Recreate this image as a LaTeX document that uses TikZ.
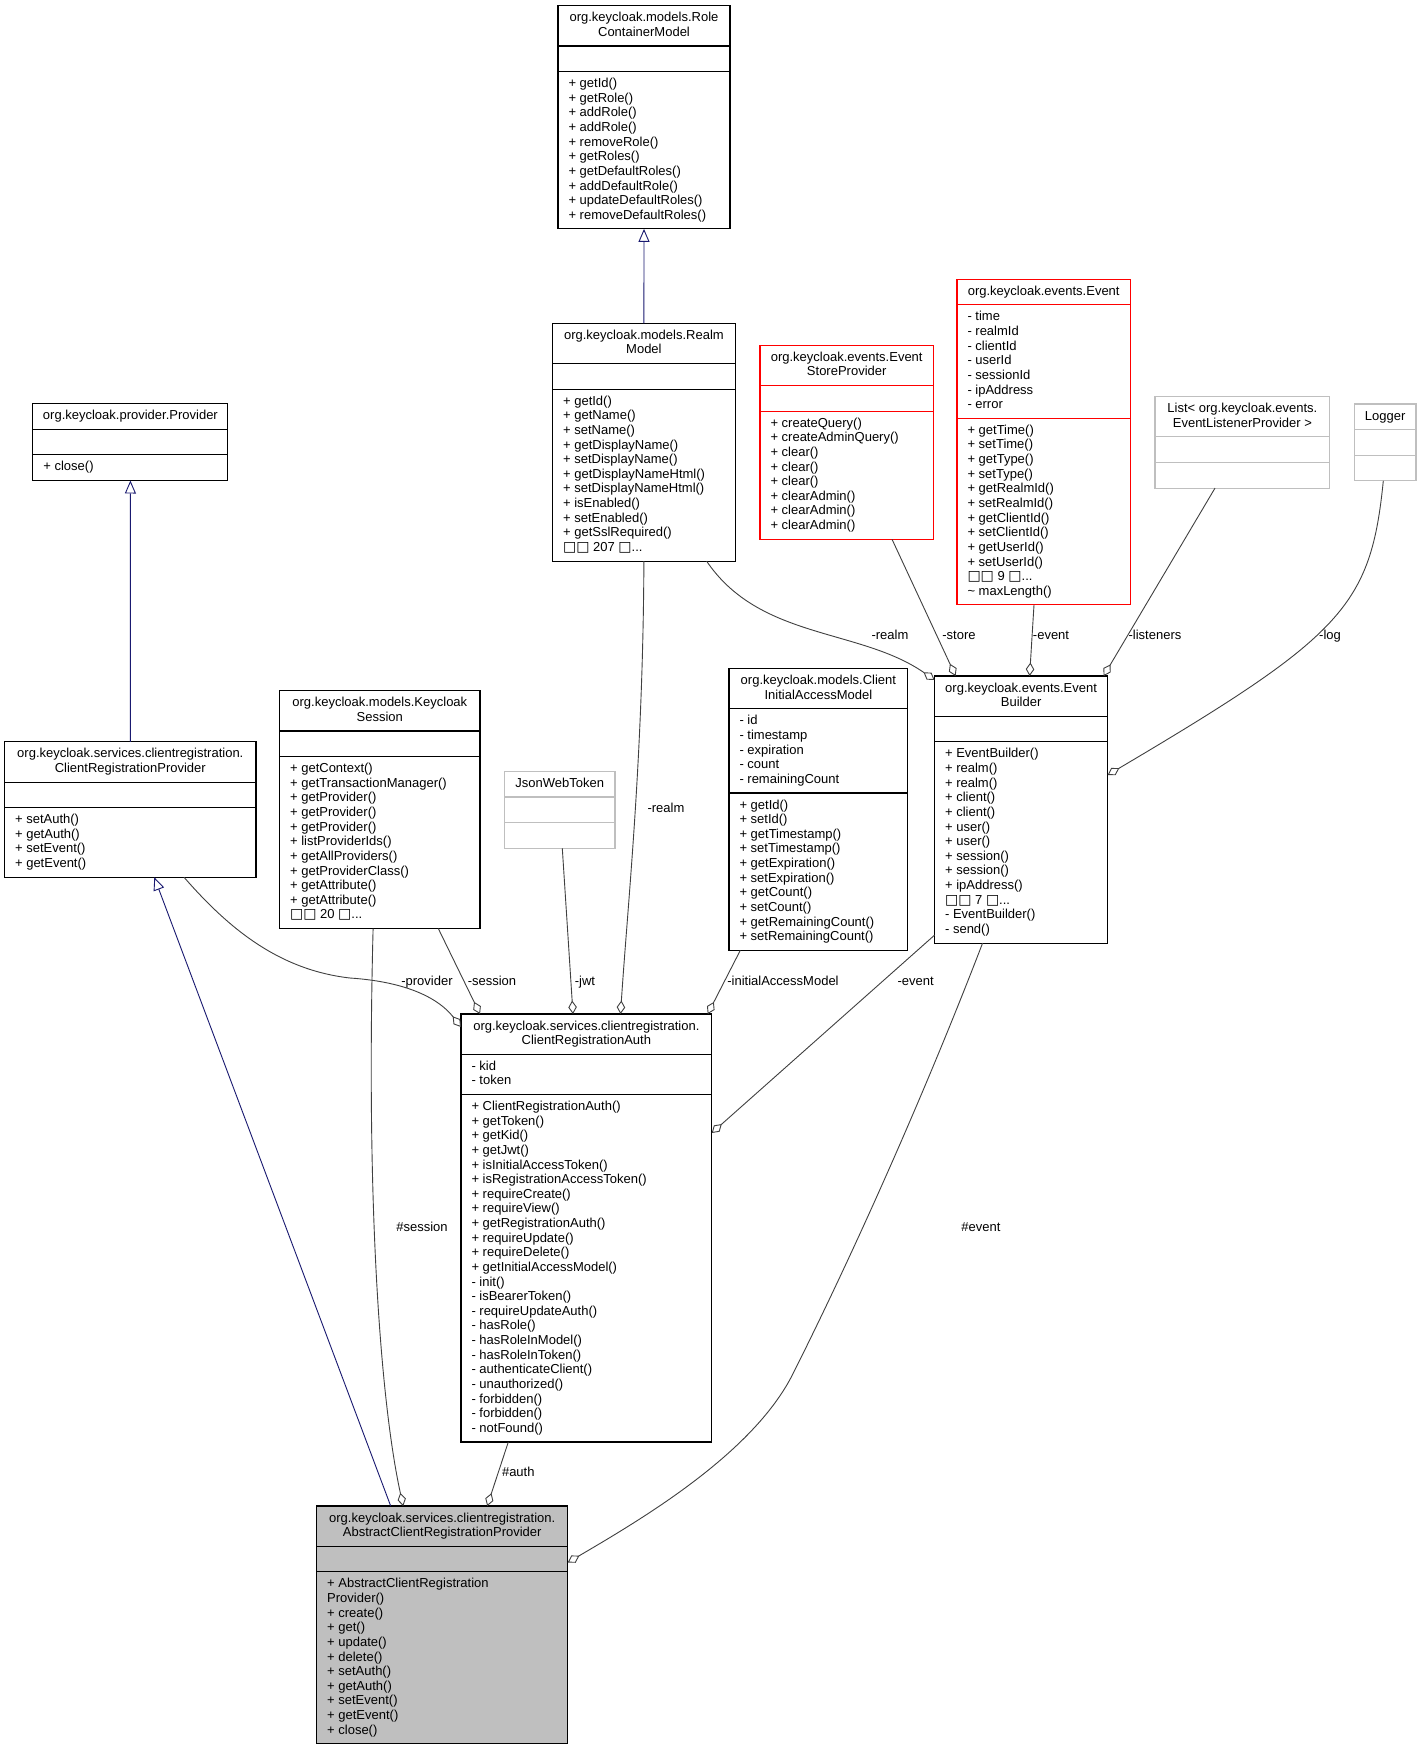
\documentclass[tikz,border=0pt]{standalone}
\usepackage{fontspec}
\setmainfont{Liberation Sans}
\newfontfamily\dejavu{DejaVu Sans}
\usetikzlibrary{arrows.meta,calc}
\definecolor{edgegrey}{HTML}{404040}
\definecolor{navyc}{HTML}{191970}
\definecolor{boxgrey}{HTML}{BFBFBF}
\definecolor{redc}{HTML}{FF0000}
\newcommand{\tofu}{{\dejavu\fontsize{14}{14}\selectfont □}}
\newcommand{\tdots}{...}
\newcommand{\lh}{14.63}
\newcommand{\upad}{11}
\tikzset{
  classbox/.style={rectangle, inner sep=0pt, outer sep=0pt, line width=1.1pt},
  sepline/.style={line width=1.1pt},
  txt/.style={inner sep=0pt, outer sep=0pt, font=\fontsize{13}{14.63}\selectfont, text=black},
  lbl/.style={txt, anchor=base},
  edge/.style={draw=edgegrey, line width=0.9pt},
  agg/.style={edge, -{Diamond[length=13.5pt,width=8.5pt,fill=white]}},
  inh/.style={draw=navyc, line width=0.9pt, -{Triangle[length=13pt,width=11pt,fill=white]}},
}
\newcommand{\umlbox}[9]{%
  \pgfmathsetmacro\ua{#3+\lh*#5+\upad}%
  \pgfmathsetmacro\ub{\ua+\lh*max(#6,1)+\upad}%
  \pgfmathsetmacro\uc{\ub+\lh*max(#7,1)+\upad}%
  \pgfmathsetmacro\cx{(#2+#4)/2}%
  \pgfmathsetmacro\cy{(#3+\uc)/2}%
  \pgfmathsetmacro\uw{#4-#2}%
  \pgfmathsetmacro\uh{\uc-#3}%
  \node[classbox, draw=#8, fill=#9, minimum width={\uw pt}, minimum height={\uh pt}] (#1) at (\cx,\cy) {};
  \draw[sepline, draw=#8] (#2,\ua) -- (#4,\ua) (#2,\ub) -- (#4,\ub);
  \xdef\uL{#2}\xdef\uT{#3}\xdef\uA{\ua}\xdef\uB{\ub}\xdef\uN{#1}\xdef\uCX{\cx}%
}
\newcommand{\umlhead}[1]{\foreach \itm [count=\ii] in {#1} {\node[txt, anchor=base] (\uN-h\ii) at (\uCX, {\uT+16+(\ii-1)*\lh}) {\itm};}}
\newcommand{\umlattr}[1]{\foreach \itm [count=\ii] in {#1} {\node[txt, anchor=base west] (\uN-a\ii) at ({\uL+10.5}, {\uA+16+(\ii-1)*\lh}) {\itm};}}
\newcommand{\umlmeth}[1]{\foreach \itm [count=\ii] in {#1} {\node[txt, anchor=base west] (\uN-m\ii) at ({\uL+10.5}, {\uB+16+(\ii-1)*\lh}) {\itm};}}
\begin{document}
\begin{tikzpicture}[x=1pt,y=-1pt]
\fill[white] (0,0) rectangle (1421,1749);
\useasboundingbox (0,0) rectangle (1421,1749);

\umlbox{rcm}{558}{5.7}{730}{2}{0}{10}{black}{white}
\umlhead{org.keycloak.models.Role,ContainerModel}
\umlmeth{+ getId(),+ getRole(),+ addRole(),+ addRole(),+ removeRole(),+ getRoles(),+ getDefaultRoles(),+ addDefaultRole(),+ updateDefaultRoles(),+ removeDefaultRoles()}

\umlbox{realm}{552.6}{323.3}{735.2}{2}{0}{11}{black}{white}
\umlhead{org.keycloak.models.Realm,Model}
\umlmeth{+ getId(),+ getName(),+ setName(),+ getDisplayName(),+ setDisplayName(),+ getDisplayNameHtml(),+ setDisplayNameHtml(),+ isEnabled(),+ setEnabled(),+ getSslRequired(),\tofu\tofu\ 207 \tofu\tdots}

\umlbox{esp}{760}{345.3}{933.4}{2}{0}{8}{redc}{white}
\umlhead{org.keycloak.events.Event,StoreProvider}
\umlmeth{+ createQuery(),+ createAdminQuery(),+ clear(),+ clear(),+ clear(),+ clearAdmin(),+ clearAdmin(),+ clearAdmin()}

\umlbox{event}{957}{279.3}{1130.4}{1}{7}{12}{redc}{white}
\umlhead{org.keycloak.events.Event}
\umlattr{- time,- realmId,- clientId,- userId,- sessionId,- ipAddress,- error}
\umlmeth{+ getTime(),+ setTime(),+ getType(),+ setType(),+ getRealmId(),+ setRealmId(),+ getClientId(),+ setClientId(),+ getUserId(),+ setUserId(),\tofu\tofu\ 9 \tofu\tdots,\textasciitilde\ maxLength()}

\umlbox{list}{1155}{396.6}{1329.8}{2}{0}{0}{boxgrey}{white}
\umlhead{List< org.keycloak.events.,EventListenerProvider >}

\umlbox{logger}{1354.3}{404}{1416}{1}{0}{0}{boxgrey}{white}
\umlhead{Logger}

\umlbox{provider}{32.9}{403.6}{227.9}{1}{0}{1}{black}{white}
\umlhead{org.keycloak.provider.Provider}
\umlmeth{+ close()}

\umlbox{crp}{4.6}{741.8}{256}{2}{0}{4}{black}{white}
\umlhead{org.keycloak.services.clientregistration.,ClientRegistrationProvider}
\umlmeth{+ setAuth(),+ getAuth(),+ setEvent(),+ getEvent()}

\umlbox{ks}{279.6}{690.7}{480}{2}{0}{11}{black}{white}
\umlhead{org.keycloak.models.Keycloak,Session}
\umlmeth{+ getContext(),+ getTransactionManager(),+ getProvider(),+ getProvider(),+ getProvider(),+ listProviderIds(),+ getAllProviders(),+ getProviderClass(),+ getAttribute(),+ getAttribute(),\tofu\tofu\ 20 \tofu\tdots}

\umlbox{jwt}{504.3}{771.4}{615}{1}{0}{0}{boxgrey}{white}
\umlhead{JsonWebToken}

\umlbox{ciam}{729}{668.6}{907.8}{2}{5}{10}{black}{white}
\umlhead{org.keycloak.models.Client,InitialAccessModel}
\umlattr{- id,- timestamp,- expiration,- count,- remainingCount}
\umlmeth{+ getId(),+ setId(),+ getTimestamp(),+ setTimestamp(),+ getExpiration(),+ setExpiration(),+ getCount(),+ setCount(),+ getRemainingCount(),+ setRemainingCount()}

\umlbox{eb}{934.6}{676}{1107.6}{2}{0}{13}{black}{white}
\umlhead{org.keycloak.events.Event,Builder}
\umlmeth{+ EventBuilder(),+ realm(),+ realm(),+ client(),+ client(),+ user(),+ user(),+ session(),+ session(),+ ipAddress(),\tofu\tofu\ 7 \tofu\tdots,- EventBuilder(),- send()}

\umlbox{cra}{461}{1014}{711.7}{2}{2}{23}{black}{white}
\umlhead{org.keycloak.services.clientregistration.,ClientRegistrationAuth}
\umlattr{- kid,- token}
\umlmeth{+ ClientRegistrationAuth(),+ getToken(),+ getKid(),+ getJwt(),+ isInitialAccessToken(),+ isRegistrationAccessToken(),+ requireCreate(),+ requireView(),+ getRegistrationAuth(),+ requireUpdate(),+ requireDelete(),+ getInitialAccessModel(),- init(),- isBearerToken(),- requireUpdateAuth(),- hasRole(),- hasRoleInModel(),- hasRoleInToken(),- authenticateClient(),- unauthorized(),- forbidden(),- forbidden(),- notFound()}

\umlbox{acrp}{316.7}{1506}{567.7}{2}{0}{11}{black}{boxgrey}
\umlhead{org.keycloak.services.clientregistration.,AbstractClientRegistrationProvider}
\umlmeth{+ AbstractClientRegistration,Provider(),+ create(),+ get(),+ update(),+ delete(),+ setAuth(),+ getAuth(),+ setEvent(),+ getEvent(),+ close()}

% inheritance
\draw[inh] (realm.north) -- (rcm.south);
\draw[inh] (crp.north) -- (provider.south);
\draw[inh] ($(acrp.north west)+(74,0)$) -- ($(crp.south west)+(149.7,0)$);

% aggregations into EventBuilder
\draw[agg] ($(esp.south west)+(132,0)$) -- ($(eb.north west)+(21,0)$);
\draw[agg] ($(event.south west)+(77,0)$) -- ($(eb.north west)+(95,0)$);
\draw[agg] ($(list.south west)+(60,0)$) -- ($(eb.north east)+(-4,0)$);
\draw[agg] ($(realm.south west)+(154,0)$) .. controls (760,640) and (860,628) .. ($(eb.north west)+(0,4)$);
\draw[agg] ($(logger.south west)+(29,0)$) .. controls (1370.7,606.2) and (1343.2,635.7) .. ($(eb.north east)+(0,99)$);

% aggregations into ClientRegistrationAuth
\draw[agg] ($(crp.south west)+(179.4,0)$) .. controls (230,930) and (280,970) .. (350,978) .. controls (410,982) and (440,1000) .. ($(cra.north west)+(0,13)$);
\draw[agg] ($(ks.south west)+(158.7,0)$) -- ($(cra.north west)+(19,0)$);
\draw[agg] ($(jwt.south west)+(58,0)$) -- ($(cra.north west)+(112,0)$);
\draw[agg] (realm.south) .. controls (643,760) and (628,900) .. ($(cra.north west)+(159.5,0)$);
\draw[agg] ($(ciam.south west)+(11.3,0)$) -- ($(cra.north east)+(-4,0)$);
\draw[agg] ($(eb.south west)+(0,-8)$) -- ($(cra.north east)+(0,119)$);

% aggregations into AbstractClientRegistrationProvider
\draw[agg] ($(ks.south west)+(93.5,0)$) .. controls (366,1200) and (380,1400) .. ($(acrp.north west)+(86.5,0)$);
\draw[agg] ($(cra.south west)+(47.3,0)$) -- ($(acrp.north west)+(170.5,0)$);
\draw[agg] ($(eb.south west)+(48,0)$) .. controls (930,1080) and (860,1240) .. (793,1373.7) .. controls (752.7,1454.2) and (640,1520) .. ($(acrp.north east)+(0,56.5)$);

% labels
\node[lbl] (l-realm1) at (890,639.8) {-realm};
\node[lbl] (l-store) at (959,639.8) {-store};
\node[lbl] (l-event1) at (1051,639.8) {-event};
\node[lbl] (l-listeners) at (1155,639.8) {-listeners};
\node[lbl] (l-log) at (1330,639.8) {-log};
\node[lbl] (l-realm2) at (666,812.5) {-realm};
\node[lbl] (l-provider) at (427,985.2) {-provider};
\node[lbl] (l-session) at (492,985.2) {-session};
\node[lbl] (l-jwt) at (585,985.2) {-jwt};
\node[lbl] (l-iam) at (783,985.2) {-initialAccessModel};
\node[lbl] (l-event2) at (915.7,985.2) {-event};
\node[lbl] (l-session2) at (422,1231) {\#session};
\node[lbl] (l-event3) at (981,1231) {\#event};
\node[lbl] (l-auth) at (518.3,1476.8) {\#auth};
\end{tikzpicture}
\end{document}
